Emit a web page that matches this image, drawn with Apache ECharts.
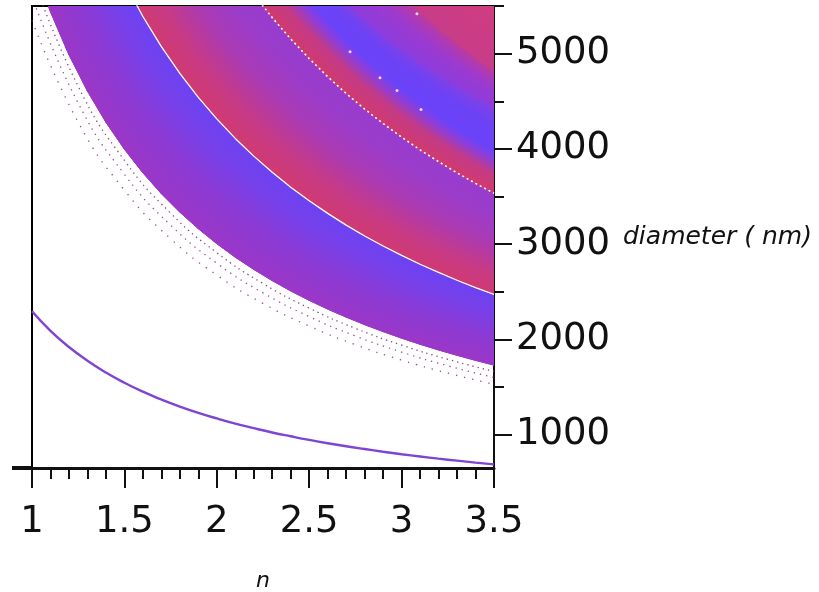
<!DOCTYPE html>
<html><head><meta charset="utf-8">
<script src="https://cdn.jsdelivr.net/npm/echarts@6/dist/echarts.min.js"></script>
<style>html,body{margin:0;padding:0;background:#fff}#c{width:819px;height:592px}</style>
</head><body><div id="c"></div>
<script>
// ---- data ----
const nFine = [1.0,1.1,1.2,1.3,1.4,1.5,1.6,1.7,1.8,1.9,2.0,2.1,2.2,2.3,2.4,2.5,2.6,2.7,2.8,2.9,3.0,3.1,3.2,3.3,3.4,3.5];
const nCoarse = [1,1.25,1.5,1.75,2,2.25,2.5,2.75,3,3.25,3.5];

// thin purple curve
const thinCurve = [2295,2090,1920,1776,1652,1545,1451,1369,1295,1229,1170,1116,1068,1023,983,945,910,878,849,821,795,771,748,727,707,688];
// lower edge of first band
const edgeA = [5980,5439,4988,4607,4280,3997,3749,3530,3336,3162,3005,2863,2735,2617,2509,2410,2318,2234,2155,2082,2013,1949,1889,1833,1780,1730];
// white line
const edgeB = [8615,7833,7182,6630,6158,5748,5390,5074,4793,4541,4315,4110,3924,3754,3598,3455,3323,3200,3086,2981,2882,2789,2703,2621,2544,2472];
// dotted white line
const edgeC = [12370,11245,10308,9515,8836,8247,7731,7276,6872,6511,6185,5890,5623,5378,5154,4948,4758,4581,4418,4266,4123,3990,3866,3748,3638,3534];
// colour transitions in upper band
const edgeD = [13900,12636,11583,10692,9929,9267,8688,8176,7722,7316,6950,6619,6318,6043,5792,5560,5346,5148,4964,4793,4633,4484,4344,4212,4088,3971];
const edgeE = [14900,13545,12417,11462,10643,9933,9313,8765,8278,7842,7450,7095,6773,6478,6208,5960,5731,5519,5348,5190,5042,4903,4773,4652,4537,4429];
const edgeF = [16900,15364,14083,13000,12071,11267,10563,9941,9389,8895,8450,8048,7682,7348,7042,6760,6500,6259,6036,5828,5633,5452,5281,5121,4971,4829];
const edgeTop = [20000,18182,16667,15385,14286,13333,12500,11765,11111,10526,10000,9524,9091,8696,8333,8000,7692,7407,7143,6897,6667,6452,6250,6061,5882,5714];

// sparse dotted rows below the first band
const dots1 = [5350,4280,3567,3057,2675,2378,2140,1945,1783,1646,1529];
const dots2 = [5600,4480,3733,3200,2800,2489,2240,2036,1867,1723,1600];
const dots3 = [5820,4656,3880,3326,2910,2587,2328,2116,1940,1791,1663];

// isolated white specks
const speckN = [3.083,2.721,2.883,2.975,3.105];
const speckD = [5418,5020,4748,4612,4413];

const xTicks = [1,1.5,2,2.5,3,3.5];
const yLabels = [1000,2000,3000,4000,5000];
const yMinor = [1500,2500,3500,4500,5500];

// ---- band styling ----
const bands = [
  {lo: edgeA, hi: edgeB, stops: [[0,'#9b37c7'],[0.4,'#8b3ad5'],[0.75,'#7640ea'],[1,'#6c42f3']]},
  {lo: edgeB, hi: edgeC, stops: [[0,'#d03a72'],[0.2,'#c83a84'],[0.5,'#aa3ab4'],[0.8,'#9a3ccb'],[1,'#983cce']]},
  {lo: edgeC, hi: edgeD, stops: [[0,'#d03a6e'],[0.45,'#c43a86'],[0.8,'#8a3ede'],[1,'#6c42f6']]},
  {lo: edgeD, hi: edgeE, stops: [[0,'#6a42f8'],[0.6,'#6c42f6'],[1,'#8040e6']]},
  {lo: edgeE, hi: edgeF, stops: [[0,'#8c3cdc'],[0.5,'#9c3ad0'],[0.85,'#b23aae'],[1,'#c43c8c']]},
  {lo: edgeF, hi: edgeTop, stops: [[0,'#c83c88'],[1,'#d23c7e']]}
];

const bandData = [];
bands.forEach((b, bi) => {
  for (let i = 0; i < nFine.length - 1; i++) bandData.push([nFine[i], b.lo[i], bi, i]);
});

const pairs = (xs, ys) => xs.map((x, i) => [x, ys[i]]);

const chart = echarts.init(document.getElementById('c'), null, {renderer: 'canvas'});
const FONT = 'DejaVu Sans';

chart.setOption({
  backgroundColor: '#fff',
  animation: false,
  grid: {left: 32, right: 325, top: 6, bottom: 124, show: true, borderColor: '#000', borderWidth: 2,
    backgroundColor: '#fff', outerBoundsMode: 'none', containLabel: false},
  xAxis: {
    type: 'value', min: 1, max: 3.5, interval: 0.5,
    name: 'n', nameLocation: 'middle', nameGap: 102,
    nameTextStyle: {fontFamily: FONT, fontStyle: 'italic', fontSize: 22, color: '#111'},
    axisLine: {onZero: false, lineStyle: {color: '#111', width: 3}},
    axisTick: {show: true, length: 20, lineStyle: {color: '#111', width: 2}},
    minorTick: {show: true, splitNumber: 5, length: 11, lineStyle: {color: '#111', width: 2}},
    splitLine: {show: false},
    axisLabel: {fontFamily: FONT, fontSize: 37, color: '#111', margin: 36,
      formatter: v => xTicks.includes(+v.toFixed(2)) ? String(+v.toFixed(2)) : ''}
  },
  yAxis: [{
    type: 'value', min: 650, max: 5500, position: 'right',
    name: 'diameter ( nm)', nameLocation: 'middle', nameGap: 129, nameRotate: 0,
    nameTextStyle: {fontFamily: FONT, fontStyle: 'italic', fontSize: 25, color: '#111', align: 'left'},
    axisLine: {onZero: false, lineStyle: {color: '#111', width: 2}},
    axisTick: {show: true, length: 18, customValues: yLabels, lineStyle: {color: '#111', width: 2}},
    axisLabel: {fontFamily: FONT, fontSize: 37, color: '#111', margin: 22, customValues: yLabels,
      formatter: v => String(Math.round(v))},
    splitLine: {show: false}
  }, {
    type: 'value', min: 650, max: 5500, position: 'right',
    axisLine: {show: false},
    axisTick: {show: true, length: 10, customValues: yMinor, lineStyle: {color: '#111', width: 2}},
    axisLabel: {show: false},
    splitLine: {show: false}
  }],
  series: [
    {
      type: 'custom', clip: true, z: 1,
      encode: {x: 0, y: 1},
      data: bandData,
      renderItem: (params, api) => {
        const b = bands[api.value(2)];
        const i = api.value(3);
        const L1 = api.coord([nFine[i], b.lo[i]]);
        const L2 = api.coord([nFine[i + 1], b.lo[i + 1]]);
        const U2 = api.coord([nFine[i + 1], b.hi[i + 1]]);
        const U1 = api.coord([nFine[i], b.hi[i]]);
        const ex = (L2[0] - L1[0]) + (U2[0] - U1[0]);
        const ey = (L2[1] - L1[1]) + (U2[1] - U1[1]);
        const len = Math.hypot(ex, ey) || 1;
        const nx = -ey / len, ny = ex / len;
        const p0 = [(L1[0] + L2[0]) / 2, (L1[1] + L2[1]) / 2];
        const pu = [(U1[0] + U2[0]) / 2, (U1[1] + U2[1]) / 2];
        const t = (pu[0] - p0[0]) * nx + (pu[1] - p0[1]) * ny;
        const grad = {type: 'linear', x: p0[0], y: p0[1], x2: p0[0] + nx * t, y2: p0[1] + ny * t,
          colorStops: b.stops.map(s => ({offset: s[0], color: s[1]})), global: true};
        return {type: 'polygon', shape: {points: [L1, L2, U2, U1]},
          style: {fill: grad, stroke: grad, lineWidth: 1}};
      }
    },
    {type: 'line', data: pairs(nFine, edgeB), symbol: 'none', z: 3, silent: true,
      lineStyle: {color: '#fff', width: 1.3}},
    {type: 'line', data: pairs(nFine, edgeC), symbol: 'none', z: 3, silent: true,
      lineStyle: {color: '#fff', width: 1.6, type: [2, 3]}},
    {type: 'line', data: pairs(nCoarse, dots1), smooth: true, symbol: 'none', z: 3, silent: true,
      lineStyle: {color: '#7a3080', width: 1.3, type: [1.3, 7], opacity: 0.85}},
    {type: 'line', data: pairs(nCoarse, dots2), smooth: true, symbol: 'none', z: 3, silent: true,
      lineStyle: {color: '#7a3080', width: 1.3, type: [1.3, 5], opacity: 0.85}},
    {type: 'line', data: pairs(nCoarse, dots3), smooth: true, symbol: 'none', z: 3, silent: true,
      lineStyle: {color: '#7a3080', width: 1.3, type: [1.3, 4], opacity: 0.9}},
    {type: 'line', data: pairs(nFine, thinCurve), smooth: true, symbol: 'none', z: 3, silent: true,
      lineStyle: {color: '#7e44d4', width: 2.4}},
    {type: 'scatter', data: pairs(speckN, speckD), symbolSize: 3, z: 4, silent: true,
      itemStyle: {color: '#fff'}}
  ]
});

// small thick stub left of the x axis origin
const o = chart.convertToPixel({gridIndex: 0}, [1, 650]);
chart.setOption({graphic: [{type: 'rect', shape: {x: o[0] - 20, y: o[1] - 2, width: 20, height: 4}, style: {fill: '#111'}, z: 10}]});
</script>
</body></html>
